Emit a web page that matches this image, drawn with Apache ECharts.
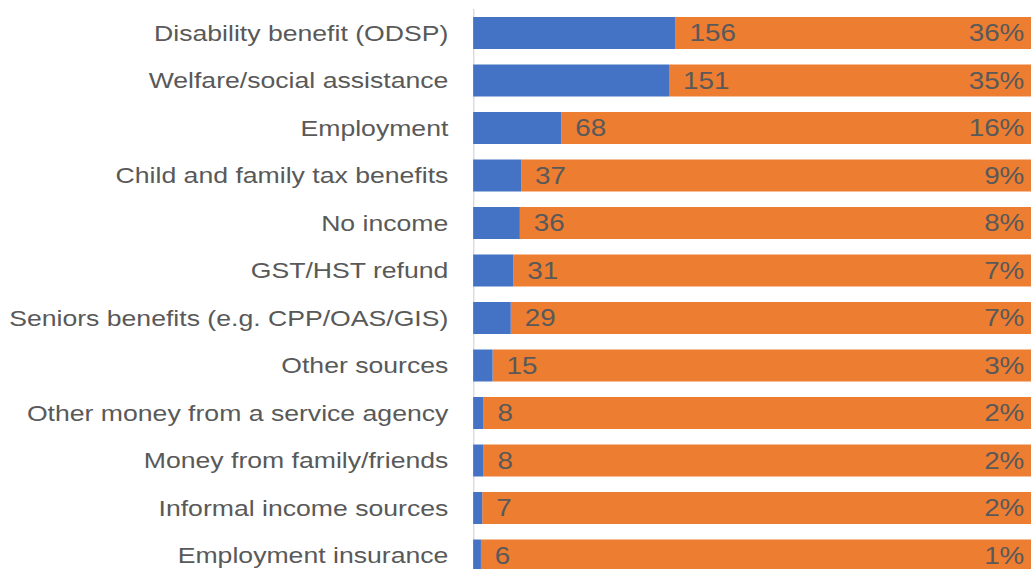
<!DOCTYPE html>
<html>
<head>
<meta charset="utf-8">
<style>
  html, body { margin: 0; padding: 0; background: #fff; overflow: hidden; }
  #chart { width: 852px; height: 580px; transform: scaleX(1.2101); transform-origin: 0 0; }
</style>
<script src="https://cdn.jsdelivr.net/npm/echarts@6/dist/echarts.min.js"></script>
</head>
<body>
<div id="chart"></div>
<script>
// Sources of income reported by respondents
const categories = [
  'Disability benefit (ODSP)',
  'Welfare/social assistance',
  'Employment',
  'Child and family tax benefits',
  'No income',
  'GST/HST refund',
  'Seniors benefits (e.g. CPP/OAS/GIS)',
  'Other sources',
  'Other money from a service agency',
  'Money from family/friends',
  'Informal income sources',
  'Employment insurance'
];
const counts = [156, 151, 68, 37, 36, 31, 29, 15, 8, 8, 7, 6];
const percentLabels = ['36%', '35%', '16%', '9%', '8%', '7%', '7%', '3%', '2%', '2%', '2%', '1%'];
const total = 430;

const remainder = counts.map(v => total - v);

const chart = echarts.init(document.getElementById('chart'), null, { renderer: 'svg' });
const textColor = '#595959';
const font = 'Liberation Sans, Arial, sans-serif';

chart.setOption({
  animation: false,
  grid: { left: 391, right: 0, top: 9.25, height: 570, containLabel: false },
  xAxis: {
    type: 'value', min: 0, max: total,
    show: false
  },
  yAxis: {
    type: 'category', data: categories, inverse: true,
    axisLine: { show: true, lineStyle: { color: '#D9D9D9', width: 1.1 } },
    axisTick: { show: false },
    axisLabel: { color: textColor, fontSize: 22, fontFamily: font, margin: 20.5 }
  },
  series: [
    {
      type: 'bar', stack: 'all', data: counts, barWidth: 32,
      itemStyle: { color: '#4472C4' },
      label: {
        show: true, position: 'right', distance: 11.5,
        color: textColor, fontSize: 23, fontFamily: font,
        formatter: p => counts[p.dataIndex]
      },
      z: 3
    },
    {
      type: 'bar', stack: 'all', data: remainder, barWidth: 32,
      itemStyle: { color: '#ED7D31' },
      label: {
        show: true, position: 'insideRight', distance: 5.5,
        color: textColor, fontSize: 23, fontFamily: font,
        formatter: p => percentLabels[p.dataIndex]
      },
      z: 2
    }
  ]
});
</script>
</body>
</html>
